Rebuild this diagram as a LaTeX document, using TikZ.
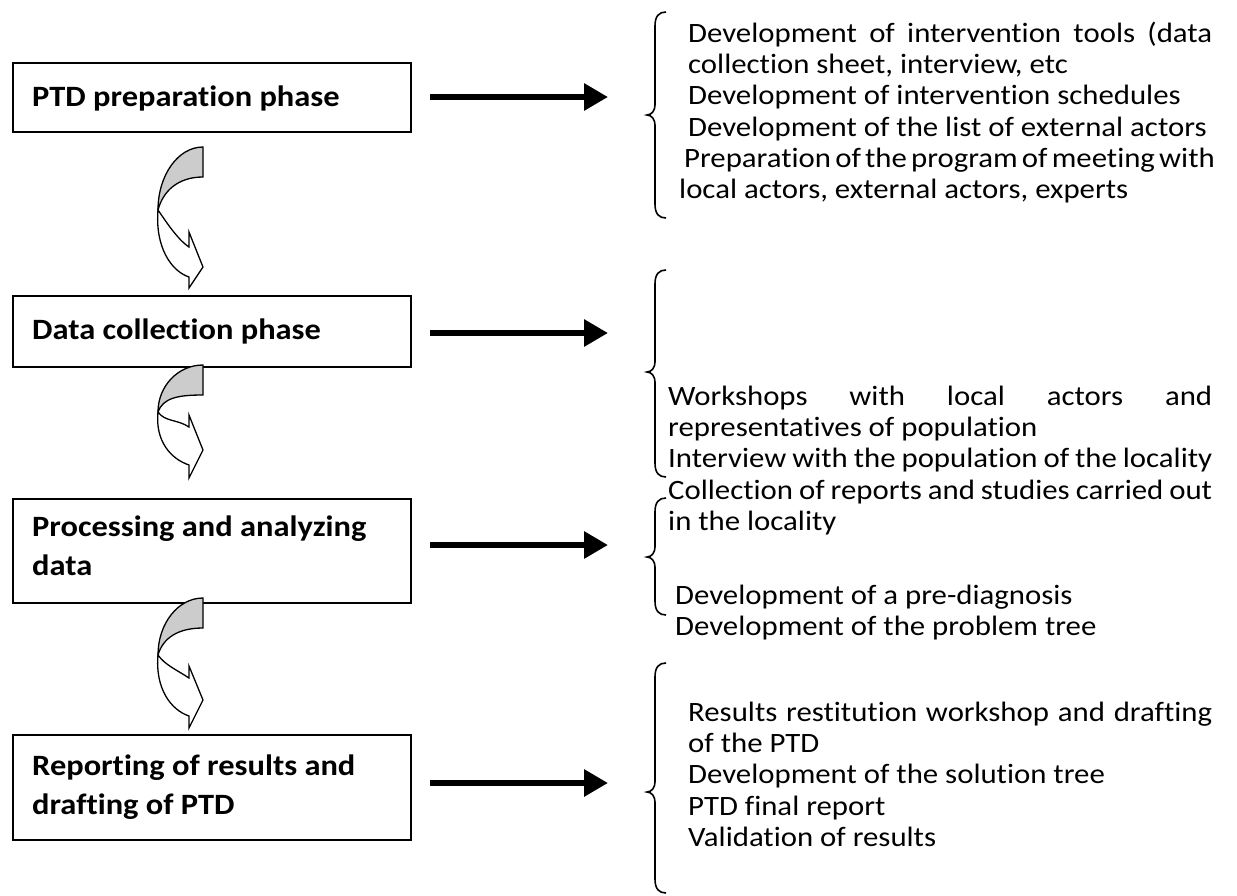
\documentclass[tikz,border=0pt]{standalone}
\usepackage{fontspec}
\setmainfont{Carlito}[FakeStretch=1.1, Ligatures=NoCommon]
\usetikzlibrary{arrows.meta}
\newcommand{\turnarrow}[7]{%
\begin{scope}[shift={(203,#1)}]
 \filldraw[fill=white, cvline] (-45,#2) .. controls (-48,{#2+0.55*(#6-#2)}) and (-32,{#6-6}) .. (-14,#6) -- (-14,#7) -- (0,#5) -- (-14,#3) -- (-14,#4) .. controls (-26,{#4-8}) and (-38,{#2+10}) .. (-45,#2) -- cycle;
 \filldraw[fill=black!20, cvline] (0,0) .. controls (-25,0) and (-45,{#2*0.45}) .. (-45,#2) .. controls (-40,{#2*0.7}) and (-25,30) .. (0,30) -- cycle;
\end{scope}}
\newcommand{\drawbrace}[3]{%
 \draw[bracestyle] (666,#1) .. controls (659,#1) and (655,{#1+4}) .. (655,{#1+14}) -- (655,{#2-10}) .. controls (655,{#2-5}) and (652,#2) .. (647,#2) .. controls (652,#2) and (655,{#2+5}) .. (655,{#2+10}) -- (655,{#3-14}) .. controls (655,{#3-4}) and (659,#3) .. (666,#3);}
\begin{document}
\begin{tikzpicture}[x=1pt,y=-1pt,
  phasebox/.style={draw, line width=1.5pt, minimum width=398pt, anchor=north west, inner sep=0pt},
  phasetext/.style={anchor=north west, inner sep=0pt, align=left, font=\fontsize{29.5}{39}\selectfont\bfseries},
  listtext/.style={anchor=north west, inner sep=0pt, align=left, font=\fontsize{28}{31.3}\selectfont},
  cvline/.style={line width=1.3pt, line join=miter},
  bracestyle/.style={line width=1.6pt},
  bigarrow/.style={line width=6pt, -{Triangle[length=24pt,width=26pt]}}]
\useasboundingbox (0,0) rectangle (1237,895);
% boxes
\node[phasebox, minimum height=69pt] (b1) at (12,62) {};
\node[phasebox, minimum height=71pt] (b2) at (12,295) {};
\node[phasebox, minimum height=104pt] (b3) at (12,498) {};
\node[phasebox, minimum height=105pt] (b4) at (12,734) {};
\node[phasetext] (l1) at (32,85) {\rule{0pt}{21pt}PTD preparation phase};
\node[phasetext] (l2) at (32,318) {\rule{0pt}{21pt}Data collection phase};
\node[phasetext] (l3) at (32,515) {\rule{0pt}{21pt}Processing and analyzing\\data};
\node[phasetext] (l4) at (32,754) {\rule{0pt}{21pt}Reporting of results and\\drafting of PTD};
% curved arrows
\turnarrow{147}{63}{85}{100}{120}{130}{141}
\turnarrow{365}{47}{50}{62}{85}{100}{113}
\turnarrow{598}{57}{68}{80}{102}{118}{130}
% horizontal arrows
\coordinate (a1s) at (430,97);  \coordinate (a1e) at (608,97);
\coordinate (a2s) at (430,333); \coordinate (a2e) at (608,333);
\coordinate (a3s) at (430,545); \coordinate (a3e) at (608,545);
\coordinate (a4s) at (430,783); \coordinate (a4e) at (608,783);
\draw[bigarrow] (a1s) -- (a1e);
\draw[bigarrow] (a2s) -- (a2e);
\draw[bigarrow] (a3s) -- (a3e);
\draw[bigarrow] (a4s) -- (a4e);
% braces
\drawbrace{12}{115}{218}
\drawbrace{270}{372}{477}
\drawbrace{498}{557}{615}
\drawbrace{663}{792}{893}
% lists
\node[listtext] (t1) at (688,20) {\rule{0pt}{22pt}\makebox[524pt][s]{Development of intervention tools (data}\\
collection sheet, interview, etc\\
Development of intervention schedules\\
Development of the list of external actors\\
\hspace*{-4pt}\makebox[528pt][s]{\spaceskip=0.17em plus 0.2em minus 0.02em Preparation of the program of meeting with}\\
\hspace*{-9pt}local actors, external actors, experts};
\node[listtext] (t2) at (668,383) {\rule{0pt}{22pt}\makebox[544pt][s]{Workshops with local actors and}\\
representatives of population\\
\makebox[544pt][s]{Interview with the population of the locality}\\
\makebox[544pt][s]{Collection of reports and studies carried out}\\
in the locality};
\node[listtext] (t3) at (675,582) {\rule{0pt}{22pt}Development of a pre-diagnosis\\
Development of the problem tree};
\node[listtext] (t4) at (688,699) {\rule{0pt}{22pt}\makebox[524pt][s]{Results restitution workshop and drafting}\\
of the PTD\\
Development of the solution tree\\
PTD final report\\
Validation of results};
\end{tikzpicture}
\end{document}
